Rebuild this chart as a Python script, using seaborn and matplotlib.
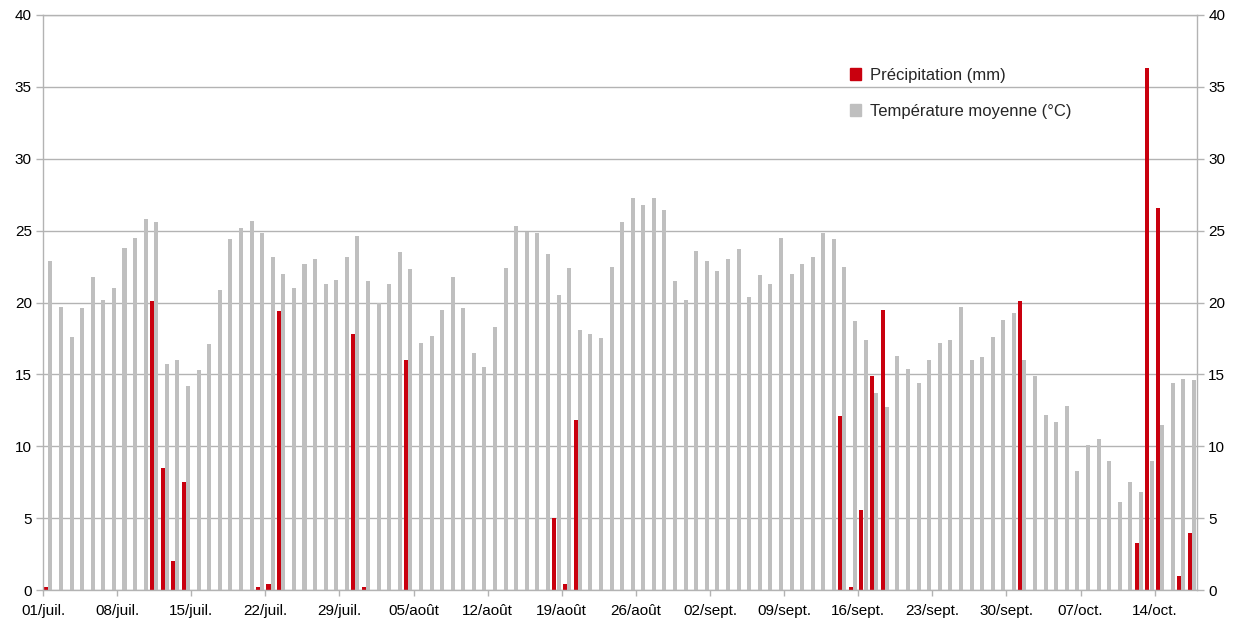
import matplotlib
matplotlib.use("Agg")
import matplotlib.pyplot as plt
import seaborn as sns
import pandas as pd
from matplotlib.patches import Patch

# jours du 01/07 au 17/10
mois = {7: "juil.", 8: "août", 9: "sept.", 10: "oct."}
jours = pd.date_range("2014-07-01", "2014-10-17", freq="D")
labels = [f"{d.day:02d}/{mois[d.month]}" for d in jours]

# précipitations (mm), par jour
precip = [0.2, 0, 0, 0, 0, 0, 0, 0, 0, 0,
          20.1, 8.5, 2.0, 7.5, 0, 0, 0, 0, 0, 0,
          0.2, 0.4, 19.4, 0, 0, 0, 0, 0, 0, 17.8,
          0.2, 0, 0, 0, 16.0, 0, 0, 0, 0, 0,
          0, 0, 0, 0, 0, 0, 0, 0, 5.0, 0.4,
          11.8, 0, 0, 0, 0, 0, 0, 0, 0, 0,
          0, 0, 0, 0, 0, 0, 0, 0, 0, 0,
          0, 0, 0, 0, 0, 12.1, 0.2, 5.6, 14.9, 19.5,
          0, 0, 0, 0, 0, 0, 0, 0, 0, 0,
          0, 0, 20.1, 0, 0, 0, 0, 0, 0, 0,
          0, 0, 0, 3.3, 36.3, 26.6, 0, 1.0, 4.0]

# température moyenne (°C), par jour
temp = [22.9, 19.7, 17.6, 19.6, 21.8, 20.2, 21.0, 23.8, 24.5, 25.8,
        25.6, 15.7, 16.0, 14.2, 15.3, 17.1, 20.9, 24.4, 25.2, 25.7,
        24.8, 23.2, 22.0, 21.0, 22.7, 23.0, 21.3, 21.6, 23.2, 24.6,
        21.5, 20.0, 21.3, 23.5, 22.3, 17.2, 17.7, 19.5, 21.8, 19.6,
        16.5, 15.5, 18.3, 22.4, 25.3, 24.9, 24.8, 23.4, 20.5, 22.4,
        18.1, 17.8, 17.5, 22.5, 25.6, 27.3, 26.8, 27.3, 26.4, 21.5,
        20.2, 23.6, 22.9, 22.2, 23.0, 23.7, 20.4, 21.9, 21.3, 24.5,
        22.0, 22.7, 23.2, 24.8, 24.4, 22.5, 18.7, 17.4, 13.7, 12.7,
        16.3, 15.4, 14.4, 16.0, 17.2, 17.4, 19.7, 16.0, 16.2, 17.6,
        18.8, 19.3, 16.0, 14.9, 12.2, 11.7, 12.8, 8.3, 10.1, 10.5,
        9.0, 6.1, 7.5, 6.8, 9.0, 11.5, 14.4, 14.7, 14.6]

series = ["Précipitation (mm)", "Température moyenne (°C)"]
couleurs = ["#c9000e", "#bfbfbf"]

df = pd.DataFrame({
    "jour": labels * 2,
    "serie": [series[0]] * len(labels) + [series[1]] * len(labels),
    "valeur": precip + temp,
})

sns.set_theme(style="white")
plt.rcParams["font.family"] = ["Liberation Sans", "DejaVu Sans"]

fig = plt.figure(figsize=(12.42, 6.19), dpi=100)
ax = fig.add_axes([0.0346, 0.0468, 0.9292, 0.929])

sns.barplot(data=df, x="jour", y="valeur", hue="serie", order=labels,
            hue_order=series, palette=couleurs, width=0.8, gap=0.05,
            errorbar=None, legend=False, saturation=1, linewidth=0, ax=ax)

grille = "#b3b3b3"
ax.set_axisbelow(True)
ax.yaxis.grid(True, color=grille, lw=1)
ax.set_ylim(0, 40)
ax.set_yticks(range(0, 41, 5))
ax.set_xlim(-0.5, len(labels) - 0.5)
pos = list(range(0, len(labels), 7))
ax.set_xticks([p - 0.5 for p in pos], [labels[p] for p in pos])
ax.set_xlabel("")
ax.set_ylabel("")
for s in ax.spines.values():
    s.set_color(grille)
    s.set_linewidth(1)
ax.tick_params(axis="both", which="both", length=5, width=1, color=grille,
               labelsize=11, labelcolor="black", direction="out", pad=3)
ax.tick_params(axis="x", length=4, pad=6)
ax.tick_params(axis="y", left=True)
ax.tick_params(axis="x", bottom=True)

ax2 = ax.twinx()
ax2.set_ylim(0, 40)
ax2.set_yticks(range(0, 41, 5))
ax2.grid(False)
for s in ax2.spines.values():
    s.set_visible(False)
ax2.tick_params(axis="y", right=True, length=5, width=1, color=grille,
                labelsize=11, labelcolor="black", pad=3)

poignees = [Patch(color=c) for c in couleurs]
ax.legend(poignees, series, loc="upper left", bbox_to_anchor=(0.699, 0.908),
          frameon=False, handlelength=0.7, handleheight=0.7,
          handletextpad=0.5, labelspacing=1.25, fontsize=12,
          borderpad=0, borderaxespad=0)

plt.savefig("out.png", dpi=100)
